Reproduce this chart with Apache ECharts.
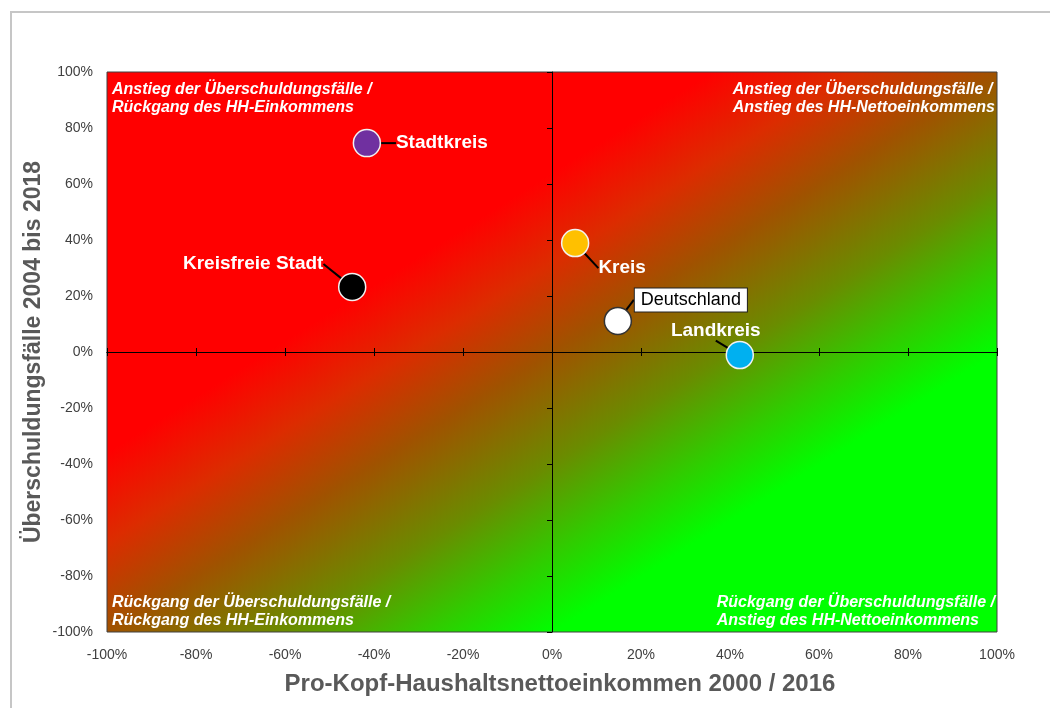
<!DOCTYPE html>
<html>
<head>
<meta charset="utf-8">
<title>Überschuldung / HH-Einkommen</title>
<script src="https://cdn.jsdelivr.net/npm/echarts@6/dist/echarts.min.js"></script>
<style>
    html, body { margin: 0; padding: 0; background: #fff; }
    #chartDiv { width: 1050px; height: 708px; }
</style>
</head>
<body>
<div id="chartDiv"></div>
<script>
    // Kreistypen und ihre Werte (in %)
    var regionNames = ['Stadtkreis', 'Kreisfreie Stadt', 'Kreis', 'Deutschland', 'Landkreis'];
    var incomeChange = [-41.6, -44.9, 5.2, 14.8, 42.2];   // x: Pro-Kopf-HH-Nettoeinkommen 2000/2016
    var debtChange = [74.6, 23.2, 38.9, 11.1, -1.1];      // y: Überschuldungsfälle 2004-2018

    var quadrantTexts = [
        'Anstieg der Überschuldungsfälle /\nRückgang des HH-Einkommens',
        'Anstieg der Überschuldungsfälle /\nAnstieg des HH-Nettoeinkommens',
        'Rückgang der Überschuldungsfälle /\nRückgang des HH-Einkommens',
        'Rückgang der Überschuldungsfälle /\nAnstieg des HH-Nettoeinkommens'
    ];

    // Darstellung (Farben, Label-Versatz) getrennt von den Daten
    var pointColors = {
        'Stadtkreis': '#7030a0',
        'Kreisfreie Stadt': '#000000',
        'Kreis': '#ffc000',
        'Deutschland': '#ffffff',
        'Landkreis': '#00b0f0'
    };
    var labelShift = {
        'Stadtkreis': [75, 0],
        'Kreisfreie Stadt': [-99, -23],
        'Kreis': [47, 25],
        'Deutschland': [73, -21],
        'Landkreis': [-24, -24]
    };

    var font = "'Liberation Sans', Arial, sans-serif";
    var W = 890, H = 560;

    var points = regionNames.map(function (name, i) {
        var isDe = name === 'Deutschland';
        return {
            name: name,
            value: [incomeChange[i], debtChange[i]],
            itemStyle: {
                color: pointColors[name],
                borderColor: isDe ? '#333333' : '#f2f2f2',
                borderWidth: 1.5,
                opacity: 1
            },
            label: isDe ? {
                color: '#000',
                fontWeight: 'normal',
                fontSize: 18,
                backgroundColor: '#fff',
                borderColor: '#222',
                borderWidth: 1,
                padding: [3, 6, 2, 6]
            } : {}
        };
    });

    var tickAxis = function (pos, extra) {
        var ax = {
            type: 'value', min: -100, max: 100, interval: 20,
            position: pos,
            axisLine: { onZero: true, onZeroAxisIndex: 1, lineStyle: { color: '#000', width: 1 } },
            axisTick: { show: true, inside: true, length: 4, lineStyle: { color: '#000' } },
            axisLabel: { show: false }, splitLine: { show: false }
        };
        return Object.assign(ax, extra || {});
    };

    var chart = echarts.init(document.getElementById('chartDiv'));

    chart.setOption({
        animation: false,
        textStyle: { fontFamily: font },
        grid: {
            left: 107, right: 53, top: 72, bottom: 76,
            show: true,
            borderColor: '#404040',
            borderWidth: 1,
            // diagonaler Verlauf rot -> gruen, Isolinien entlang der Nebendiagonale
            backgroundColor: new echarts.graphic.LinearGradient(0, 0, 2 * H * H / (H * H + W * W), 2 * W * W / (H * H + W * W), [
                { offset: 0, color: '#ff0000' },
                { offset: 0.34, color: '#ff0000' },
                { offset: 0.42, color: '#dc2c00' },
                { offset: 0.5, color: '#a05200' },
                { offset: 0.6, color: '#6a8c00' },
                { offset: 0.68, color: '#30cc00' },
                { offset: 0.75, color: '#00ff00' },
                { offset: 1, color: '#00ff00' }
            ])
        },
        xAxis: [{
            type: 'value', min: -100, max: 100, interval: 20,
            position: 'bottom',
            axisLine: { show: false }, axisTick: { show: false }, splitLine: { show: false },
            axisLabel: { formatter: '{value}%', color: '#404040', fontSize: 14, margin: 16 },
            name: 'Pro-Kopf-Haushaltsnettoeinkommen 2000 / 2016',
            nameLocation: 'middle', nameGap: 40, nameMoveOverlap: false,
            nameTextStyle: { fontSize: 24, fontWeight: 'bold', color: '#595959', padding: [0, 0, 0, 16] }
        },
            tickAxis('top'),
            tickAxis('bottom')
        ],
        yAxis: [{
            type: 'value', min: -100, max: 100, interval: 20,
            position: 'left',
            axisLine: { show: false }, axisTick: { show: false }, splitLine: { show: false },
            axisLabel: { formatter: '{value}%', color: '#404040', fontSize: 14, margin: 14 },
            name: 'Überschuldungsfälle 2004 bis 2018',
            nameLocation: 'middle', nameGap: 62, nameMoveOverlap: false,
            nameTextStyle: { fontSize: 23, fontWeight: 'bold', color: '#595959' }
        },
            tickAxis('right', { axisTick: { show: true, inside: true, length: 5, lineStyle: { color: '#000' } } })
        ],
        graphic: [
            {
                type: 'rect', silent: true,
                shape: { x: 11, y: 12, width: 1100, height: 800 },
                style: { fill: 'none', stroke: '#c6c6c6', lineWidth: 2 }
            },
            {
                type: 'text', left: 112, top: 81,
                style: { text: quadrantTexts[0], font: 'italic bold 16px ' + font, fill: '#fff', lineHeight: 18 }
            },
            {
                type: 'text', right: 55, top: 81,
                style: { text: quadrantTexts[1], font: 'italic bold 16px ' + font, fill: '#fff', lineHeight: 18, align: 'right' }
            },
            {
                type: 'text', left: 112, top: 594,
                style: { text: quadrantTexts[2], font: 'italic bold 16px ' + font, fill: '#fff', lineHeight: 18 }
            },
            {
                type: 'text', right: 55, top: 594,
                style: { text: quadrantTexts[3], font: 'italic bold 16px ' + font, fill: '#fff', lineHeight: 18, align: 'right' }
            }
        ],
        series: [{
            type: 'scatter',
            xAxisIndex: 0,
            yAxisIndex: 0,
            symbolSize: 27,
            data: points,
            label: {
                show: true,
                position: 'inside',
                formatter: '{b}',
                color: '#fff',
                fontSize: 19,
                fontWeight: 'bold',
                fontFamily: font
            },
            labelLine: {
                show: true,
                lineStyle: { color: '#000', width: 2 }
            },
            labelLayout: function (params) {
                var s = labelShift[regionNames[params.dataIndex]];
                return { dx: s[0], dy: s[1] };
            }
        }]
    });
</script>
</body>
</html>
